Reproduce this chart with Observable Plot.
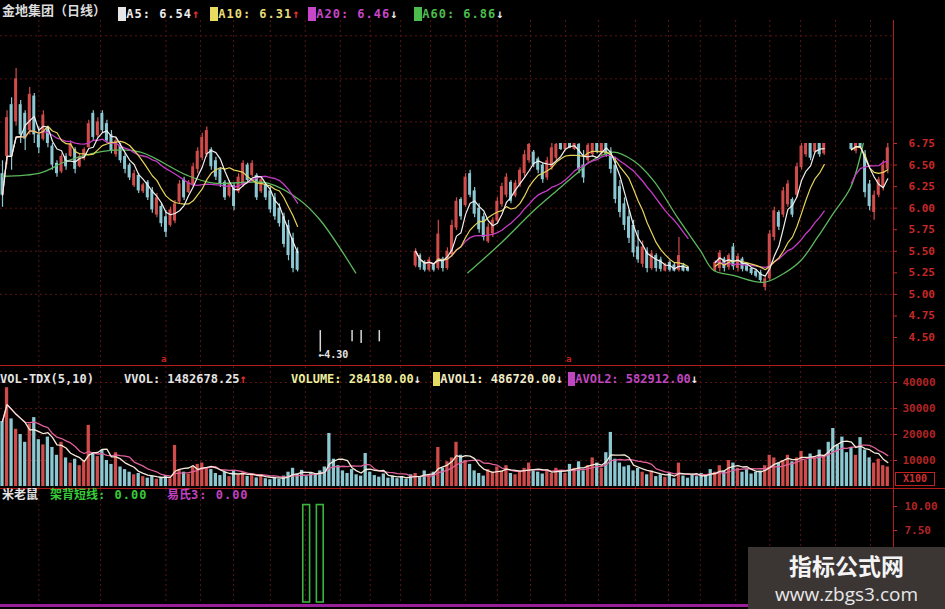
<!DOCTYPE html>
<html><head><meta charset="utf-8">
<script src="https://cdn.jsdelivr.net/npm/d3@7"></script>
<script src="https://cdn.jsdelivr.net/npm/@observablehq/plot@0.6"></script>
<style>
body{margin:0;background:#000;}
#wrap{position:relative;width:945px;height:609px;background:#000;overflow:hidden;font-family:"DejaVu Sans Mono",monospace;}
.abs{position:absolute;white-space:pre;}
.h{font-size:12px;font-weight:bold;letter-spacing:1px;line-height:14px;}
.v{font-size:12px;font-weight:bold;letter-spacing:0;line-height:14px;}
.cjk{font-family:"Noto Sans CJK SC",sans-serif;font-weight:bold;letter-spacing:0;}
.blk{padding:0;}
.panel{position:absolute;left:0;}
</style></head><body><div id="wrap"></div>
<script>
// ---------- data ----------
const N = 196;
const open = [6.40,6.60,7.20,7.00,7.20,7.10,6.90,7.30,6.85,6.80,
6.92,6.72,6.52,6.42,6.60,6.60,6.68,6.48,6.57,6.70,
7.10,6.84,7.10,6.98,6.85,6.62,6.72,6.60,6.50,6.26,
6.38,6.19,6.30,6.20,5.92,6.02,5.90,5.80,5.85,6.07,
6.33,6.18,6.27,6.45,6.58,6.62,6.68,6.55,6.45,6.30,
6.14,6.26,6.19,6.27,6.50,6.38,6.38,6.19,6.27,6.20,
6.12,6.00,5.90,5.80,5.65,5.50,
null,null,null,null,null,null,null,null,null,null,null,null,null,null,null,null,null,null,null,null,null,null,null,null,null,
5.33,5.45,5.37,5.28,5.35,5.30,5.41,5.30,5.46,
5.77,6.10,6.03,6.40,6.20,6.00,5.90,5.61,5.70,5.85,
6.04,6.15,6.30,6.14,6.27,6.40,6.55,6.65,6.57,6.50,
6.35,6.47,6.58,6.75,6.68,6.75,6.68,6.74,6.50,6.55,
6.62,6.75,6.64,6.75,6.66,6.50,6.25,6.05,5.90,5.80,
5.55,5.35,5.50,5.30,5.45,5.40,5.27,5.37,5.34,5.28,
5.34,5.31,
null,null,null,null,null,
5.27,5.30,5.41,
5.31,5.55,5.30,5.41,5.34,5.30,5.27,5.25,5.08,5.18,
5.66,5.95,5.92,6.04,6.10,6.15,6.47,6.62,6.75,6.65,
6.75,6.63,
null,null,null,null,null,
6.75,6.66,6.75,
6.62,6.28,5.95,6.15,6.24,6.45];
const close = [6.15,7.05,6.60,7.50,6.85,6.80,7.32,6.85,6.70,7.08,
6.75,6.50,6.40,6.60,6.48,6.75,6.45,6.60,6.68,6.98,
6.82,7.00,6.90,6.78,6.66,6.78,6.55,6.45,6.35,6.40,
6.20,6.27,6.12,5.98,6.12,5.82,5.72,5.98,6.05,6.28,
6.12,6.30,6.48,6.66,6.82,6.90,6.48,6.36,6.28,6.12,
6.29,6.02,6.36,6.52,6.32,6.52,6.12,6.33,6.12,5.98,
5.90,5.82,5.58,5.45,5.30,5.28,
null,null,null,null,null,null,null,null,null,null,null,null,null,null,null,null,null,null,null,null,null,null,null,null,null,
5.50,5.31,5.28,5.40,5.28,5.70,5.30,5.50,5.80,
6.08,5.90,6.36,6.15,5.93,5.75,5.66,5.78,5.86,6.08,
6.25,6.36,6.08,6.29,6.44,6.62,6.74,6.50,6.44,6.33,
6.55,6.70,6.74,6.68,6.75,6.70,6.75,6.45,6.35,6.73,
6.75,6.65,6.75,6.62,6.45,6.10,5.95,5.80,5.65,5.48,
5.40,5.55,5.30,5.47,5.30,5.29,5.34,5.28,5.27,5.45,
5.27,5.27,
null,null,null,null,null,
5.37,5.48,5.30,
5.45,5.32,5.44,5.29,5.27,5.24,5.21,5.16,5.18,5.70,
5.97,5.78,6.20,6.28,5.92,6.48,6.72,6.75,6.58,6.75,
6.62,6.75,
null,null,null,null,null,
6.68,6.75,6.71,
6.18,6.02,6.15,6.33,6.50,6.70];
const high = [6.55,7.13,7.28,7.62,7.25,7.13,7.40,7.33,6.94,7.13,
6.94,6.75,6.55,6.63,6.63,6.78,6.70,6.63,6.70,7.02,
7.13,7.05,7.13,7.02,6.90,6.82,6.75,6.63,6.52,6.44,
6.40,6.29,6.32,6.24,6.17,6.05,5.97,6.01,6.09,6.32,
6.36,6.32,6.52,6.70,6.87,6.94,6.70,6.59,6.47,6.32,
6.32,6.29,6.40,6.55,6.52,6.55,6.40,6.36,6.29,6.24,
6.17,6.05,5.94,5.86,5.71,5.54,
null,null,null,null,null,null,null,null,null,null,null,null,null,null,null,null,null,null,null,null,null,null,null,null,null,
5.53,5.47,5.39,5.43,5.36,5.86,5.43,5.54,5.86,
6.12,6.12,6.40,6.44,6.24,6.05,5.94,5.82,5.89,6.12,
6.29,6.40,6.32,6.32,6.47,6.67,6.75,6.67,6.59,6.52,
6.59,6.75,6.75,6.75,6.75,6.75,6.75,6.75,6.67,6.75,
6.75,6.75,6.75,6.75,6.70,6.59,6.32,6.12,5.97,5.86,
5.74,5.62,5.54,5.51,5.47,5.43,5.36,5.39,5.36,5.66,
5.36,5.32,
null,null,null,null,null,
5.39,5.51,5.43,
5.47,5.59,5.47,5.43,5.36,5.31,5.28,5.28,5.20,5.74,
6.01,5.97,6.24,6.32,6.12,6.52,6.75,6.75,6.75,6.75,
6.75,6.75,
null,null,null,null,null,
6.75,6.75,6.75,
6.67,6.32,6.20,6.36,6.55,6.75];
const low = [6.01,6.50,6.44,6.95,6.75,6.67,6.85,6.75,6.63,6.78,
6.70,6.44,6.36,6.40,6.44,6.59,6.40,6.47,6.55,6.70,
6.78,6.82,6.87,6.75,6.63,6.59,6.52,6.40,6.32,6.24,
6.17,6.17,6.09,5.94,5.89,5.78,5.66,5.78,5.82,6.05,
6.09,6.17,6.24,6.40,6.55,6.59,6.44,6.32,6.24,6.09,
6.12,5.97,6.17,6.24,6.29,6.36,6.09,6.17,6.09,5.94,
5.86,5.78,5.54,5.39,5.25,5.26,
null,null,null,null,null,null,null,null,null,null,null,null,null,null,null,null,null,null,null,null,null,null,null,null,null,
5.31,5.28,5.26,5.26,5.26,5.28,5.26,5.28,5.43,
5.74,5.86,6.01,6.12,5.89,5.71,5.62,5.59,5.66,5.82,
6.01,6.12,6.05,6.12,6.24,6.36,6.52,6.47,6.40,6.29,
6.32,6.44,6.55,6.67,6.67,6.69,6.67,6.40,6.29,6.52,
6.59,6.63,6.61,6.59,6.40,6.05,5.89,5.74,5.59,5.43,
5.36,5.31,5.25,5.28,5.26,5.26,5.26,5.26,5.26,5.26,
5.26,5.26,
null,null,null,null,null,
5.26,5.26,5.26,
5.28,5.28,5.26,5.26,5.26,5.22,5.19,5.13,5.04,5.16,
5.62,5.74,5.89,6.01,5.89,6.12,6.44,6.59,6.55,6.63,
6.59,6.61,
null,null,null,null,null,
6.67,6.63,6.70,
6.12,5.97,5.86,6.12,6.20,6.40];
// remnants of the low below the cut-off (day index, low, high)
const lowStubs = [[70,4.33,4.58],[77,4.45,4.58],[79,4.43,4.58],[83,4.45,4.58]];
const lowMark = [[70,4.30,"←4.30"]];
// MA60 (day index, price)
const ma60Left = [[0,6.37],[8.4,6.41],[14.3,6.55],[23.8,6.67],[30.4,6.65],[40.7,6.38],[46.5,6.29],[58.4,6.29],[65.6,6.09],[70,5.86],[77.8,5.25]];
const ma60Right = [[102.5,5.25],[109.7,5.59],[117,5.97],[122.9,6.24],[127.3,6.44],[128.9,6.52],[134.6,6.65],[139,6.55],[143.4,6.32],[148.7,5.89],[153.7,5.51],[156.6,5.28],[161,5.22],[167.6,5.14],[172,5.24],[175.8,5.39],[179.5,5.66],[183,5.94],[186.8,6.24],[189.6,6.75]];
const volume = [25000,38000,26000,22000,20000,17000,24000,26500,18000,16000,
19000,15000,12000,17000,11000,9000,10500,8000,9500,23500,
13000,11500,14000,10000,8500,13000,7500,6500,5500,4500,
5000,3800,3200,4000,2800,3500,4200,3000,15800,6500,
5500,4800,7500,8500,9000,7000,6500,5000,4200,5500,
3800,6000,4500,5200,3900,4300,3300,4600,3000,2600,
3500,2800,4000,5500,7000,4800,6200,3800,5200,4300,
6000,7500,20400,10500,8000,6000,5000,6500,4500,4000,
12700,5500,4200,3600,4800,3200,4000,3000,3800,2800,
4500,5000,3500,6000,4200,5500,15000,7000,9500,11000,
17000,12000,10000,8500,6000,5000,4000,6500,5500,7500,
6000,8000,5000,4500,6000,7000,9000,6000,5500,4800,
6500,5000,7000,6000,5000,8500,7000,9500,6000,8000,
11000,9000,7000,13000,20800,10500,9000,7500,8000,6000,
7000,5500,4500,6000,3800,4500,3500,5000,3000,9000,
4000,3200,4500,3800,5000,4200,6500,5500,8000,6000,
10000,9000,7000,5500,6500,4800,5500,6000,8000,12000,
11000,9000,10000,12000,9500,11000,13500,10000,12500,11000,
14000,12000,17000,22300,16000,19000,13000,15000,12000,18800,
14000,11000,9000,10500,8000,7500];
const signal = [[67,10.15],[70,10.15]];
const gridDays = [8,21.6,36,43.6,50.9,59,66.7,74.4,81,87.7,94.3,102,109,116.3,124,131.3,139.4,146.7,153.7,161.5,169,175.8,183.5,191.2];
const priceTicks = [4.5,4.75,5,5.25,5.5,5.75,6,6.25,6.5,6.75];
const priceGrid = [5,5.5,6,6.5,7,7.5,8];
const volTicks = [10000,20000,30000,40000];
const sigTicks = [7.5,10];
const dayMarks = [35.5,124.7];

// ---------- helpers ----------
function ma(arr, k){
  return arr.map((v,i)=>{ if(v==null) return null;
    const w = arr.slice(Math.max(0,i-k+1), i+1).filter(x=>x!=null);
    return d3.mean(w); });
}
const idx = d3.range(N);
const RED = "#d04c4a", CYAN = "#8cc8d2", GRID = "#5a1414", AXIS = "#c82828";
const xDom = [-0.44, 196.26];
const bars = idx.filter(i=>close[i]!=null).map(i=>({i,o:open[i],c:close[i],h:high[i],l:low[i],up:close[i]>=open[i]}));
const ma5 = ma(close,5), ma10 = ma(close,10), ma20 = ma(close,20);
const vbars = idx.map(i=>({i, v: volume[i], up: close[i]!=null && close[i]>=open[i]}));
const mavol1 = ma(volume,5), mavol2 = ma(volume,10);
const style = {background:"transparent", color:AXIS, fontFamily:"DejaVu Sans Mono, monospace", fontSize:"11px", fontWeight:"bold", overflow:"visible"};

const wrap = document.getElementById("wrap");
function place(el, top){ el.classList.add("panel"); el.style.top = top+"px"; wrap.appendChild(el); }

// ---------- price panel ----------
const price = Plot.plot({
  width:945, height:345, marginLeft:0, marginRight:52, marginTop:0, marginBottom:0, style,
  x:{domain:xDom, axis:null},
  y:{domain:[4.5,6.75], range:[317,123], axis:null},
  marks:[
    Plot.ruleY(priceGrid, {stroke:GRID, strokeDasharray:"2,3"}),
    Plot.ruleX(gridDays, {stroke:GRID, strokeDasharray:"2,3"}),
    Plot.ruleX(bars, {x:"i", y1:"l", y2:"h", stroke:d=>d.up?RED:CYAN, strokeWidth:1.2}),
    Plot.rect(bars, {x1:d=>d.i-0.33, x2:d=>d.i+0.33, y1:"o", y2:"c", fill:d=>d.up?RED:CYAN}),
    Plot.ruleX(lowStubs, {x:d=>d[0], y1:d=>d[1], y2:d=>d[2], stroke:"#d8d8d8", strokeWidth:1.5}),
    Plot.text(lowMark, {x:d=>d[0], y:d=>d[1], text:d=>d[2], textAnchor:"start", dx:-2, fill:"#e4e4e4", fontSize:10}),
    Plot.text(dayMarks, {x:d=>d, y:4.25, text:()=>"a", fill:"#d02020", fontSize:9}),
    Plot.line(ma60Left, {x:d=>d[0], y:d=>d[1], stroke:"#5cb85c", strokeWidth:1.3, curve:"catmull-rom"}),
    Plot.line(ma60Right, {x:d=>d[0], y:d=>d[1], stroke:"#5cb85c", strokeWidth:1.3, curve:"catmull-rom"}),
    Plot.line(idx, {x:d=>d, y:d=>ma20[d], stroke:"#c63cc6", strokeWidth:1.3}),
    Plot.line(idx, {x:d=>d, y:d=>ma10[d], stroke:"#e6d45a", strokeWidth:1.2}),
    Plot.line(idx, {x:d=>d, y:d=>ma5[d], stroke:"#f0f0f0", strokeWidth:1.2}),
    Plot.axisY({anchor:"right", label:null, ticks:priceTicks, tickFormat:d=>d.toFixed(2), tickSize:3, tickPadding:12, stroke:AXIS, fill:AXIS})
  ]
});
place(price, 20);

// ---------- volume panel ----------
const vol = Plot.plot({
  width:945, height:123, marginLeft:0, marginRight:52, marginTop:0, marginBottom:0, style,
  x:{domain:xDom, axis:null},
  y:{domain:[0,40000], range:[120,16], axis:null},
  marks:[
    Plot.ruleY(volTicks, {stroke:GRID, strokeDasharray:"2,3"}),
    Plot.ruleX(gridDays, {stroke:GRID, strokeDasharray:"2,3"}),
    Plot.rect(vbars, {x1:d=>d.i-0.36, x2:d=>d.i+0.36, y1:0, y2:"v", fill:d=>d.up?RED:CYAN}),
    Plot.line(idx, {x:d=>d, y:d=>mavol2[d], stroke:"#e0609a", strokeWidth:1.3}),
    Plot.line(idx, {x:d=>d, y:d=>mavol1[d], stroke:"#f4ead8", strokeWidth:1.3}),
    Plot.axisY({anchor:"right", label:null, ticks:volTicks, tickFormat:d=>String(d), tickSize:3, tickPadding:6, stroke:AXIS, fill:"#b02424"})
  ]
});
place(vol, 366);

// ---------- indicator panel ----------
const sig = Plot.plot({
  width:945, height:120, marginLeft:0, marginRight:52, marginTop:0, marginBottom:0, style,
  x:{domain:xDom, axis:null},
  y:{domain:[0,10], range:[113,17], axis:null},
  marks:[
    Plot.ruleX(gridDays, {stroke:GRID, strokeDasharray:"2,3"}),
    Plot.rect(signal, {x1:d=>d[0]-0.75, x2:d=>d[0]+0.75, y1:0, y2:d=>d[1], fill:"none", stroke:"#3cb43c", strokeWidth:1.6}),
    Plot.axisY({anchor:"right", label:null, ticks:sigTicks, tickFormat:d=>d.toFixed(2), tickSize:3, tickPadding:8, stroke:AXIS, fill:"#b02424"})
  ]
});
place(sig, 489);

// ---------- frame lines, headers, watermark ----------
function div(css, html){ const d=document.createElement("div"); d.className="abs"; d.style.cssText=css; if(html) d.innerHTML=html; wrap.appendChild(d); return d; }
div("left:0;top:365px;width:945px;height:1px;background:#b01c1c;");
div("left:0;top:488px;width:945px;height:1px;background:#b01c1c;");
div("left:893px;top:20px;width:1px;height:589px;background:#b01c1c;");
div("left:0;top:604px;width:748px;height:3px;background:#9a209a;");
div("left:895px;top:472px;width:38px;height:12px;border:1px solid #c02020;color:#d03030;font:bold 10px 'DejaVu Sans Mono',monospace;line-height:12px;text-align:center;", "X100");

const ar = (c,s)=>`<span style="color:${c}">${s}</span>`;
const blk = (c)=>`<span class="blk" style="background:${c};color:${c}">M</span>`;
div("left:2px;top:3px;color:#dcdcdc;font-size:13px;line-height:14px;", `<span class="cjk">金地集团（日线）</span>`);
div("left:118px;top:3px;color:#ececec;", `<span class="h">${blk("#e6e6e6")}A5: 6.54${ar("#e03030","↑")}</span>`);
div("left:210px;top:3px;color:#e8dc78;", `<span class="h">${blk("#e8dc60")}A10: 6.31${ar("#e03030","↑")}</span>`);
div("left:308px;top:3px;color:#c846c8;", `<span class="h">${blk("#c846c8")}A20: 6.46${ar("#e8e8e8","↓")}</span>`);
div("left:414px;top:3px;color:#4cbc4c;", `<span class="h">${blk("#4cbc4c")}A60: 6.86${ar("#e8e8e8","↓")}</span>`);

div("left:0;top:368px;color:#e4e4e4;", `<span class="v">VOL-TDX(5,10)</span>`);
div("left:124px;top:368px;color:#e4e4e4;", `<span class="v">VVOL: 1482678.25${ar("#e03030","↑")}</span>`);
div("left:291px;top:368px;color:#ecec9c;", `<span class="v">VOLUME: 284180.00${ar("#e8e8e8","↓")}</span>`);
div("left:433px;top:368px;color:#f0ecc8;", `<span class="v">${blk("#e8dc60")}AVOL1: 486720.00${ar("#e8e8e8","↓")}</span>`);
div("left:568px;top:368px;color:#c046c0;", `<span class="v">${blk("#c046c0")}AVOL2: 582912.00${ar("#e8e8e8","↓")}</span>`);

div("left:2px;top:487px;color:#e4e4e4;font-size:12px;line-height:14px;", `<span class="cjk">米老鼠</span>`);
div("left:50px;top:487px;color:#38cc38;font-size:12px;line-height:14px;", `<span class="cjk">架背短线</span><span class="h">: 0.00</span>`);
div("left:167px;top:487px;color:#c040c0;font-size:12px;line-height:14px;", `<span class="cjk">易氏</span><span class="h">3: 0.00</span>`);

div("left:748px;top:547px;width:197px;height:62px;background:#3b3634;");
div("left:748px;top:551px;width:197px;text-align:center;color:#f4f4f4;font:bold 23px 'Noto Sans CJK SC',sans-serif;line-height:28px;", "指标公式网");
div("left:748px;top:582px;width:197px;text-align:center;color:#e8e8e8;font:19px 'Open Sans','DejaVu Sans',sans-serif;line-height:24px;", "www.zbgs3.com");
</script>
</body></html>
